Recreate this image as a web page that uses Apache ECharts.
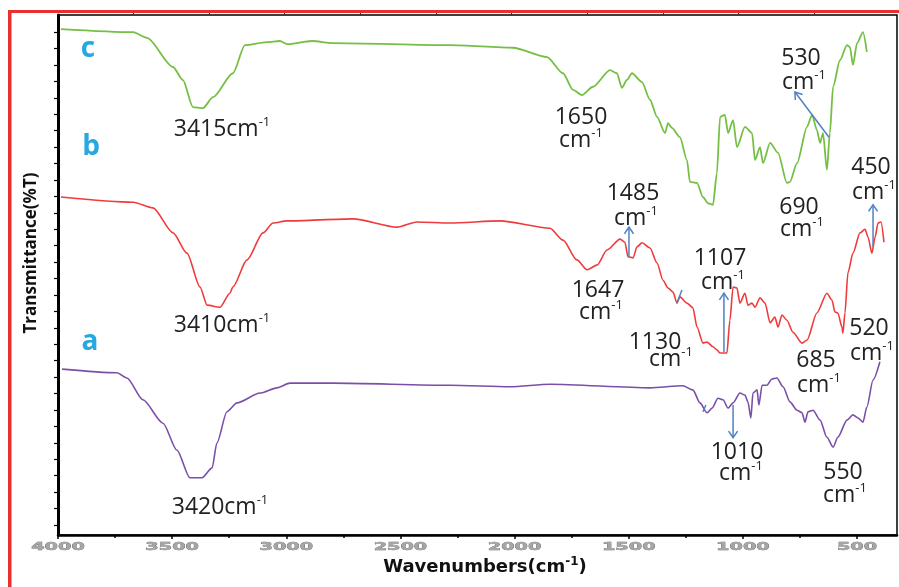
<!DOCTYPE html>
<html><head><meta charset="utf-8">
<script src="https://cdn.jsdelivr.net/npm/echarts@6/dist/echarts.min.js"></script>
<style>html,body{margin:0;padding:0;background:#fff}#main{width:899px;height:587px}</style>
</head><body><div id="main"></div>
<script>
// ---- data (wavenumber cm-1, transmittance arbitrary %) ----
const waveC = [3987,3671,3610,3496,3453,3409,3365,3321,3234,3181,3085,3028,2997,2888,2796,2283,2007,1858,1788,1744,1705,1657,1582,1552,1530,1508,1486,1442,1407,1376,1341,1328,1311,1276,1245,1232,1201,1175,1153,1131,1114,1100,1079,1065,1043,1026,991,960,947,925,912,881,846,807,794,763,719,697,676,662,649,632,619,605,575,544,531,518,500,474,457];
const transC = [97.3,96.7,95.6,90.0,87.5,82.3,82.1,84.2,88.8,94.2,94.8,95.0,94.4,95.0,94.6,94.2,93.7,91.9,88.8,85.6,84.6,86.2,89.4,88.8,86.0,87.5,88.8,87.1,83.7,80.4,77.3,79.2,78.3,76.5,72.1,67.9,67.7,65.0,63.8,63.5,69.6,80.4,80.8,77.3,79.8,74.6,78.5,77.3,72.1,74.6,71.5,75.4,73.5,67.7,67.9,71.5,78.5,80.8,77.9,75.4,77.3,70.2,77.3,86.2,91.3,94.2,93.8,90.4,94.6,96.7,92.9];

const waveB = [3987,3671,3584,3496,3435,3378,3347,3290,3247,3234,3172,3102,3058,2997,2708,2515,2428,2283,2064,1845,1788,1727,1683,1639,1595,1538,1517,1503,1481,1464,1442,1407,1376,1350,1328,1306,1289,1276,1245,1219,1201,1175,1157,1131,1114,1100,1070,1057,1043,1026,1013,991,978,960,947,925,903,881,860,846,829,807,781,741,719,676,632,610,597,584,566,562,553,540,518,487,465,452,435,421,408,395,382];
const transB = [65.0,64.0,62.9,58.1,54.2,47.7,44.2,43.8,46.5,47.7,52.9,58.1,60.0,60.4,60.8,59.2,60.2,60.0,60.4,59.0,56.7,52.9,51.0,51.9,54.8,56.9,56.3,53.5,53.3,55.4,56.2,55.2,52.3,49.0,47.5,46.7,44.6,45.8,44.6,43.7,40.0,36.9,37.1,36.2,35.6,35.0,35.0,41.3,47.7,47.5,44.6,46.5,44.2,44.6,43.8,45.6,44.6,40.8,41.9,40.0,42.3,41.3,39.0,36.9,37.5,42.7,46.5,45.2,42.9,42.7,40.0,38.8,42.7,50.4,54.2,58.1,58.8,57.3,54.2,57.3,60.0,60.2,56.3];

const waveA = [3982,3742,3698,3628,3540,3479,3422,3369,3325,3304,3260,3216,3115,3041,2984,2796,2283,2020,1845,1407,1263,1219,1188,1157,1135,1109,1087,1065,1043,1013,991,978,965,956,938,930,916,895,873,851,824,794,763,741,728,715,693,662,632,605,584,544,518,496,474,457,430,400];
const transA = [31.9,31.2,30.2,26.0,21.5,16.3,11.0,11.0,12.9,17.7,23.7,25.4,27.3,28.3,29.2,29.2,28.8,28.5,29.0,28.3,28.7,27.9,25.4,23.5,24.4,26.3,26.0,24.4,25.4,27.3,26.9,25.6,22.5,27.3,27.9,25.0,28.8,28.8,30.0,30.2,28.5,25.6,24.0,23.5,21.7,23.7,24.0,22.1,18.8,16.9,18.8,22.1,23.1,22.5,21.7,24.6,29.8,33.3];

const xTickLabels = [4000,3500,3000,2500,2000,1500,1000,500];
const xMinorTicks = [3750,3250,2750,2250,1750,1250,750];
const curveLetters = ['a','b','c'];

// annotation arrows in data coordinates [from, to] (arrowhead at "to")
const arrows = [
  [[623,76.5],[772,85.2]],
  [[1499,53.5],[1499,59.2]],
  [[430,55.4],[430,63.5]],
  [[1083,35.2],[1083,46.5]],
  [[1043,25.0],[1043,18.7]]
];
const marks = [
  [[1289,44.6],[1267,47.1]],
  [[1175,23.7],[1162,25.0]]
];
</script>
<script>
const zip = (w, t) => w.map((v, i) => [v, t[i]]);
const yTicks = []; for (let k = 0; k <= 30; k++) yTicks.push(+(1.92 + 3.16 * k).toFixed(2));
const topTicks = []; for (let k = 0; k <= 9; k++) topTicks.push(+(3671 - 331.6 * k).toFixed(1));

const chart = echarts.init(document.getElementById('main'));
const baseX = {type: 'value', min: 325, max: 4000, inverse: true, splitLine: {show: false}};
const lineCommon = {type: 'line', showSymbol: false, smooth: 0.25, smoothMonotone: 'x'};
chart.setOption({
  animation: false,
  backgroundColor: '#fff',
  grid: {left: 58, right: 2, top: 15, bottom: 52, show: true, borderColor: '#000', borderWidth: 1.5},
  xAxis: [
    Object.assign({}, baseX, {
      position: 'bottom',
      axisLine: {show: true, onZero: false, lineStyle: {color: '#000', width: 2.5}},
      axisTick: {show: true, customValues: xTickLabels, length: 4, lineStyle: {color: '#000', width: 1.5}},
      axisLabel: {show: false}
    }),
    Object.assign({}, baseX, {
      position: 'bottom',
      axisLine: {show: false, onZero: false},
      axisTick: {show: true, customValues: xMinorTicks, length: 3, lineStyle: {color: '#000', width: 1.5}},
      axisLabel: {show: false}
    }),
    Object.assign({}, baseX, {
      position: 'top',
      axisLine: {show: false, onZero: false},
      axisTick: {show: true, customValues: topTicks, length: 2, lineStyle: {color: '#333', width: 1}},
      axisLabel: {show: false}
    })
  ],
  yAxis: {
    type: 'value', min: 0, max: 100,
    axisLine: {show: true, onZero: false, lineStyle: {color: '#000', width: 3}},
    axisTick: {show: true, customValues: yTicks, length: 4, lineStyle: {color: '#000', width: 1.2}},
    axisLabel: {show: false},
    splitLine: {show: false}
  },
  series: [
    Object.assign({name: curveLetters[2], data: zip(waveC, transC), lineStyle: {color: '#74bf44', width: 1.8}}, lineCommon),
    Object.assign({name: curveLetters[1], data: zip(waveB, transB), lineStyle: {color: '#ef3b3b', width: 1.6}}, lineCommon),
    Object.assign({name: curveLetters[0], data: zip(waveA, transA), lineStyle: {color: '#7a4fa8', width: 1.6}}, lineCommon)
  ]
});

const P = p => chart.convertToPixel({xAxisIndex: 0, yAxisIndex: 0}, p);
const g = [];
const blue = '#4f81c4';
arrows.forEach(([a, b]) => {
  const p1 = P(a), p2 = P(b);
  const ang = Math.atan2(p2[1] - p1[1], p2[0] - p1[0]);
  const L = 8, s = 0.6;
  g.push({type: 'line', shape: {x1: p1[0], y1: p1[1], x2: p2[0], y2: p2[1]}, style: {stroke: blue, lineWidth: 1.5}, z: 10});
  g.push({type: 'polyline', shape: {points: [
    [p2[0] - L * Math.cos(ang - s), p2[1] - L * Math.sin(ang - s)], p2,
    [p2[0] - L * Math.cos(ang + s), p2[1] - L * Math.sin(ang + s)]]}, style: {stroke: blue, lineWidth: 1.5, fill: null}, z: 10});
});
marks.forEach(([a, b]) => {
  const p1 = P(a), p2 = P(b);
  g.push({type: 'line', shape: {x1: p1[0], y1: p1[1], x2: p2[0], y2: p2[1]}, style: {stroke: blue, lineWidth: 1.5}, z: 10});
});

// x tick labels (wide, light-grey lettering), positioned through the axis scale
const yBase = P([4000, 0])[1];
xTickLabels.forEach(v => {
  g.push({type: 'text', x: P([v, 0])[0], y: yBase + 12, scaleX: 1.75, z: 15,
    style: {text: String(v), fontSize: 11, fontWeight: 'bold', fontFamily: '"DejaVu Sans", sans-serif', fill: '#a6a6a6', stroke: '#5e5e5e', lineWidth: 0.5, align: 'center', verticalAlign: 'middle'}});
});

// red frame
g.push({type: 'rect', shape: {x: 8, y: 10, width: 891, height: 3}, style: {fill: '#e8312f'}, z: 20});
g.push({type: 'rect', shape: {x: 8, y: 10, width: 3.5, height: 577}, style: {fill: '#e8312f'}, z: 20});

const FONT = '"Open Sans", "DejaVu Sans", sans-serif';
const rich = {s: {fontSize: 13, fontFamily: FONT, fill: '#222', verticalAlign: 'top', lineHeight: 26}, n: {fontSize: 23, fontFamily: FONT, lineHeight: 26}};
const labels = [
  [222,129,'3415cm{s|-1}'],[222,325,'3410cm{s|-1}'],[220,507,'3420cm{s|-1}'],
  [581,117,'1650'],[581,140,'cm{s|-1}'],
  [801,58,'530'],[804,82,'cm{s|-1}'],
  [799,207,'690'],[802,229,'cm{s|-1}'],
  [871,167,'450'],[874,192,'cm{s|-1}'],
  [633,193,'1485'],[636,218,'cm{s|-1}'],
  [598,290,'1647'],[601,312,'cm{s|-1}'],
  [720,258,'1107'],[723,282,'cm{s|-1}'],
  [655,342,'1130'],[671,359,'cm{s|-1}'],
  [816,360,'685'],[819,385,'cm{s|-1}'],
  [869,328,'520'],[872,353,'cm{s|-1}'],
  [737,452,'1010'],[741,473,'cm{s|-1}'],
  [843,472,'550'],[845,495,'cm{s|-1}']
];
labels.forEach(([x, y, t]) => {
  g.push({type: 'text', x: x, y: y, z: 15, style: {text: t, fontSize: 23, fontFamily: FONT, fill: '#222', align: 'center', verticalAlign: 'middle', rich: rich}});
});
const letterPos = {c: [88, 49], b: [91, 147], a: [90, 342]};
curveLetters.forEach(l => {
  g.push({type: 'text', x: letterPos[l][0], y: letterPos[l][1], z: 15, style: {text: l, fontSize: 28, fontWeight: 'bold', fontFamily: FONT, fill: '#28a8e0', align: 'center', verticalAlign: 'middle'}});
});
g.push({type: 'text', x: 485, y: 567, z: 15, style: {text: 'Wavenumbers(cm{s|-1})', fontSize: 18, fontWeight: 'bold', fontFamily: '"DejaVu Sans", sans-serif', fill: '#111', align: 'center', verticalAlign: 'middle',
  rich: {s: {fontSize: 12, fontWeight: 'bold', fontFamily: '"DejaVu Sans", sans-serif', fill: '#111', verticalAlign: 'top', lineHeight: 22}}}});
g.push({type: 'text', x: 31, y: 253, rotation: Math.PI / 2, z: 15, style: {text: 'Transmittance(%T)', fontSize: 17, fontWeight: 'bold', fontFamily: FONT, fill: '#111', align: 'center', verticalAlign: 'middle'}});

chart.setOption({graphic: g});
</script>
</body></html>
